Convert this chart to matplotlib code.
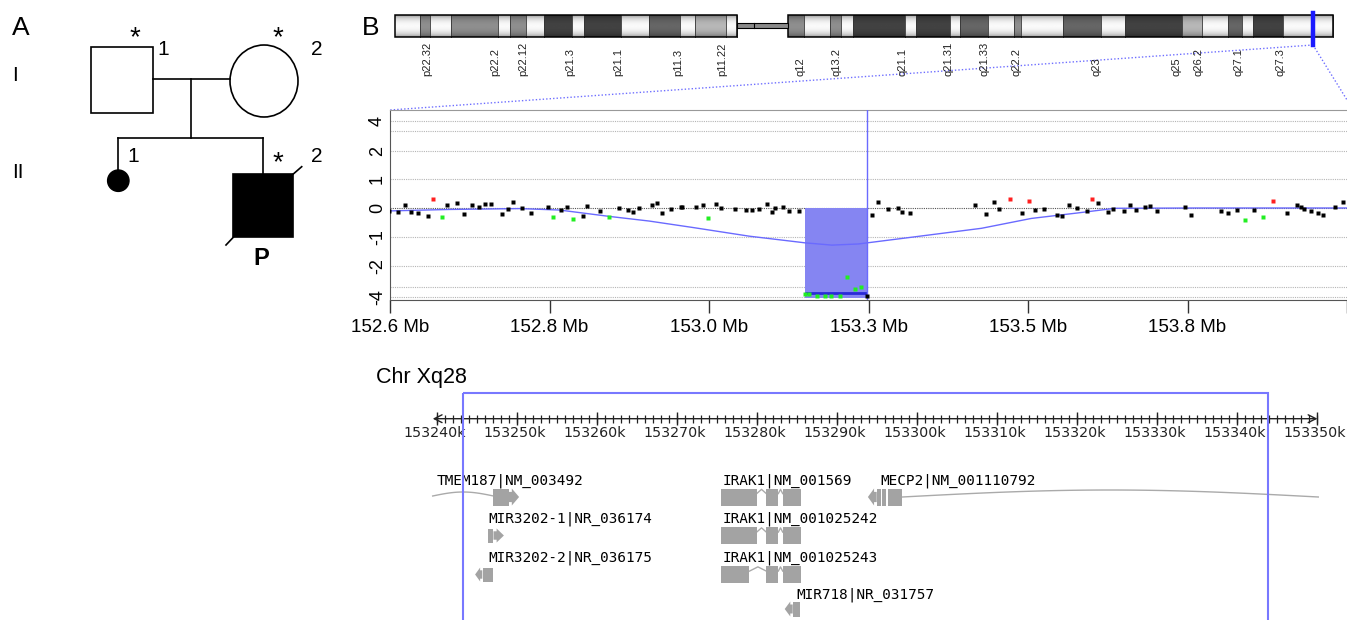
import numpy as np
import matplotlib
matplotlib.use('Agg')
import matplotlib.pyplot as plt
from matplotlib.patches import Rectangle, Ellipse, Polygon

W, H = 1347, 620
plt.rcParams['font.family'] = ['Liberation Sans', 'DejaVu Sans']

# ---- array CGH data (position in Mb, log2 ratio) ----
black_x = [152.599, 152.612, 152.623, 152.631, 152.642, 152.657, 152.686, 152.701, 152.711, 152.723,
           152.734, 152.743, 152.752, 152.768, 152.777, 152.785, 152.799, 152.812, 152.837, 152.858,
           152.867, 152.891, 152.896, 152.916, 152.944, 152.958, 152.966, 152.975, 152.994, 153.002,
           153.010, 153.023, 153.038, 153.040, 153.061, 153.071, 153.091, 153.098, 153.119, 153.136,
           153.145, 153.155, 153.167, 153.175, 153.180, 153.191, 153.201, 153.215, 153.317, 153.326,
           153.334, 153.349, 153.364, 153.371, 153.382, 153.481, 153.497, 153.509, 153.516, 153.551,
           153.570, 153.584, 153.604, 153.611, 153.622, 153.634, 153.649, 153.665, 153.680, 153.688,
           153.705, 153.713, 153.722, 153.736, 153.744, 153.754, 153.796, 153.805, 153.850, 153.861,
           153.875, 153.900, 153.949, 153.965, 153.971, 153.975, 153.986, 153.996, 154.004, 154.022,
           154.034]
black_y = [-0.10, -0.14, 0.10, -0.15, -0.16, -0.28, 0.10, 0.16, -0.21, 0.09,
           0.04, 0.14, 0.14, -0.21, -0.04, 0.22, -0.01, -0.16, 0.02, -0.07,
           0.04, -0.28, 0.07, -0.09, -0.01, -0.07, -0.13, 0.01, 0.11, 0.18,
           -0.18, -0.02, 0.04, 0.04, 0.04, 0.10, 0.13, 0.01, -0.03, -0.08,
           -0.06, -0.03, 0.15, -0.15, -0.01, 0.04, -0.09, -0.09, -3.90, -0.25,
           0.21, -0.03, 0.00, -0.15, -0.16, 0.10, -0.22, 0.21, -0.04, -0.18,
           -0.07, -0.03, -0.24, -0.28, 0.10, 0.00, -0.09, 0.18, -0.15, -0.03,
           -0.09, 0.11, -0.06, 0.03, 0.08, -0.11, 0.04, -0.24, -0.09, -0.16,
           -0.07, -0.06, -0.18, 0.10, 0.02, -0.02, -0.09, -0.18, -0.25, 0.04,
           0.22]
red_x = [152.665, 153.533, 153.561, 153.656, 153.929]
red_y = [0.32, 0.32, 0.24, 0.31, 0.25]
green_x = [152.678, 152.846, 152.875, 152.929, 153.079, 153.886, 153.913,
           153.224, 153.231, 153.242, 153.254, 153.264, 153.277, 153.287, 153.299, 153.308]
green_y = [-0.32, -0.32, -0.37, -0.31, -0.36, -0.40, -0.31,
           -3.73, -3.70, -3.90, -3.90, -3.93, -3.93, -2.54, -3.23, -3.03]
smooth_x = [152.600, 152.690, 152.795, 152.855, 152.930, 152.990, 153.055, 153.140, 153.224,
            153.265, 153.305, 153.391, 153.490, 153.565, 153.635, 153.691, 153.815, 154.040]
smooth_y = [-0.10, -0.05, -0.02, -0.07, -0.29, -0.45, -0.67, -0.97, -1.20,
            -1.28, -1.24, -0.99, -0.70, -0.36, -0.17, -0.01, 0.00, 0.00]
del_start, del_end, del_bottom, seg_mean = 153.224, 153.317, -4.1, -3.57
mb_ticks = [152.60, 152.84, 153.08, 153.32, 153.56, 153.80, 154.04]
mb_labels = ['152.6 Mb', '152.8 Mb', '153.0 Mb', '153.3 Mb', '153.5 Mb', '153.8 Mb', '']
ratio_ticks = [4, 2, 1, 0, -1, -2, -4]
grid_levels = [-4, -3, -2, -1, 1, 2, 3, 4]

# ---- X chromosome ideogram ----
p_edges = [395, 420, 430, 451, 498, 510, 526, 544, 572, 584, 621, 649, 680, 695, 726, 737]
p_shade = ['w', 'g', 'w', 'g', 'w', 'g', 'w', 'd', 'w', 'd', 'w', 'dg', 'w', 'lg', 'w']
q_edges = [788, 804, 830, 841, 853, 905, 916, 950, 960, 988, 1014, 1021, 1063, 1101, 1125,
           1182, 1202, 1228, 1242, 1253, 1283, 1333]
q_shade = ['g', 'w', 'g', 'w', 'd', 'w', 'd', 'w', 'dg', 'w', 'g', 'w', 'dg', 'w', 'd',
           'lg', 'w', 'dg', 'w', 'd', 'w']
band_names = ['p22.32', 'p22.2', 'p22.12', 'p21.3', 'p21.1', 'p11.3', 'p11.22', 'q12', 'q13.2',
              'q21.1', 'q21.31', 'q21.33', 'q22.2', 'q23', 'q25', 'q26.2', 'q27.1', 'q27.3']
band_name_x = [427, 495, 523, 570, 618, 678, 722, 800, 837,
               903, 948, 985, 1017, 1097, 1177, 1198, 1238, 1280]
marker_x = 1313

# ---- gene track (kb) ----
kb_ticks_major = list(range(153240, 153351, 10))
kb_ticks_minor = list(range(153240, 153351, 1))
del_box = (153243.25, 153343.95)

fig = plt.figure(figsize=(W / 100, H / 100), dpi=100)
canvas = fig.add_axes([0, 0, 1, 1])
canvas.axis('off')


def box(left, top, right, bottom):
    return [left / W, 1 - bottom / H, (right - left) / W, (bottom - top) / H]


# ---------------- panel A: pedigree ----------------
lw_p = 1.2
canvas.text(12, 35, 'A', fontsize=19, va='baseline')
canvas.text(12, 81, 'I', fontsize=15, va='baseline')
canvas.text(12, 178, 'II', fontsize=15, va='baseline')
canvas.add_patch(Rectangle((90.7, 47.3), 62, 65.4, fc='white', ec='black', lw=lw_p))
canvas.add_patch(Ellipse((264, 81), 68, 72, fc='white', ec='black', lw=lw_p))
canvas.plot([152.7, 230], [79.3, 79.3], 'k-', lw=lw_p)
canvas.plot([191, 191], [79.3, 138.3], 'k-', lw=lw_p)
canvas.plot([118.3, 263.3], [138.3, 138.3], 'k-', lw=lw_p)
canvas.plot([118.3, 118.3], [138.3, 172], 'k-', lw=lw_p)
canvas.add_patch(Ellipse((118.3, 180.7), 21.4, 21.4, fc='black', ec='black'))
canvas.plot([263.3, 263.3], [138.3, 174], 'k-', lw=lw_p)
canvas.add_patch(Rectangle((233.3, 174), 60, 63.3, fc='black', ec='black', lw=lw_p))
canvas.plot([293.3, 301.7], [174, 166.7], 'k-', lw=lw_p)
canvas.plot([233.3, 226], [237.3, 245], 'k-', lw=lw_p)
for sx, sy in [(135, 45), (278, 45), (278, 170)]:
    canvas.text(sx, sy, '*', fontsize=20, ha='center', va='baseline')
for tx, ty, t in [(163, 55, '1'), (316.7, 55, '2'), (133, 162, '1'), (316.7, 162, '2')]:
    canvas.text(tx, ty, t, fontsize=15, ha='center', va='baseline')
canvas.text(261.7, 265, 'P', fontsize=17, fontweight='bold', ha='center', va='baseline')

# ---------------- panel B: ideogram ----------------
canvas.text(362, 35, 'B', fontsize=19, va='baseline')
shade_val = {'w': 0.98, 'lg': 0.72, 'g': 0.56, 'dg': 0.40, 'd': 0.26}
t = np.linspace(0, 1, 30)
for edges, shades in [(p_edges, p_shade), (q_edges, q_shade)]:
    for x0, x1, s in zip(edges[:-1], edges[1:], shades):
        prof = shade_val[s] * (0.55 + 0.45 * np.sin(np.pi * t) ** 0.5)
        canvas.imshow(prof[:, None], cmap='gray', vmin=0, vmax=1, extent=(x0, x1, 37, 15),
                      aspect='auto', interpolation='bilinear', zorder=1)
        canvas.plot([x1, x1], [15, 37], color='#333333', lw=0.6, zorder=2)
    canvas.add_patch(Rectangle((edges[0], 15), edges[-1] - edges[0], 22, fc='none', ec='black',
                               lw=1.1, zorder=3))
canvas.add_patch(Rectangle((p_edges[-1], 22.5), q_edges[0] - p_edges[-1], 5, fc='#8a8a8a',
                           ec='black', lw=0.8, zorder=3))
canvas.plot([754, 754], [22.5, 27.5], color='black', lw=0.8, zorder=3)
for name, bx in zip(band_names, band_name_x):
    canvas.text(bx, 76, name, rotation=90, fontsize=8, ha='center', va='bottom', color='#222222')
canvas.plot([marker_x, marker_x], [13, 45], color='#1a1aff', lw=3.2, zorder=4)
canvas.plot([marker_x, 390], [45, 110], ls=(0, (1, 1.5)), color='#6f6fff', lw=1)
canvas.plot([marker_x, 1352], [45, 108], ls=(0, (1, 1.5)), color='#6f6fff', lw=1)
canvas.text(376, 383, 'Chr Xq28', fontsize=15.5, va='baseline')

# ---------------- panel B: log2 ratio plot ----------------
ratio_vals = [-6, -4, -3, -2, -1, 0, 1, 2, 3, 4, 6]
ratio_pix = [-109, -89, -79, -58, -29, 0, 29, 57, 77, 87, 107]


def fwd(v):
    return np.interp(v, ratio_vals, ratio_pix)


def inv(h):
    return np.interp(h, ratio_pix, ratio_vals)


ax = fig.add_axes(box(390, 110, 1347, 300))
ax.set_yscale('function', functions=(fwd, inv))
ax.set_xlim(152.6, 154.04)
ax.set_ylim(-4.3, 5.1)
for g in grid_levels:
    ax.axhline(g, color='#b5b5b5', ls=(0, (1, 1)), lw=0.8, zorder=0)
ax.axhline(0, color='#555555', ls=(0, (1, 1)), lw=0.8, zorder=0)
ax.add_patch(Rectangle((del_start, del_bottom), del_end - del_start, -del_bottom,
                       fc='#8585f2', ec='none', zorder=1))
ax.plot(smooth_x, smooth_y, color='#6a6aff', lw=1, zorder=2)
ax.hlines(seg_mean, del_start, del_end, color='#2a2ad8', lw=2, zorder=3)
ax.axvline(del_end, color='#6a6aff', lw=1, zorder=3)
ax.plot(black_x, black_y, 's', ms=2.6, color='black', mec='none', zorder=4)
ax.plot(red_x, red_y, 's', ms=2.6, color='#ff2020', mec='none', zorder=4)
ax.plot(green_x, green_y, 's', ms=2.6, color='#22ee22', mec='none', zorder=4)
ax.set_xticks(mb_ticks)
ax.set_xticklabels(mb_labels)
ax.set_yticks(ratio_ticks)
ax.set_yticklabels([str(v) for v in ratio_ticks], rotation=90, va='center')
ax.yaxis.set_minor_locator(plt.NullLocator())
ax.tick_params(axis='x', length=9, width=1, color='#333333', pad=5, labelsize=13.5)
ax.tick_params(axis='y', length=0, pad=3, labelsize=13)
ax.spines['right'].set_visible(False)
ax.spines['top'].set_color('#999999')
ax.spines['left'].set_color('#555555')
ax.spines['bottom'].set_color('#555555')

# ---------------- panel B: gene track ----------------
px_per_kb = 8.0
gx = fig.add_axes(box(380, 380, 1347, 620))
gx.set_xlim(153240 - (436.7 - 380) / px_per_kb, 153240 + (1347 - 436.7) / px_per_kb)
gx.set_ylim(620, 380)
gx.axis('off')

axis_y = 418.7
gx.annotate('', xy=(153350.1, axis_y), xytext=(153239.5, axis_y),
            arrowprops=dict(arrowstyle='<->', color='#222222', lw=1, mutation_scale=14,
                            shrinkA=0, shrinkB=0))
gx.vlines(kb_ticks_minor, axis_y - 3.7, axis_y + 4, color='#222222', lw=0.9)
gx.vlines(kb_ticks_major, axis_y - 7, axis_y + 6.3, color='#222222', lw=1)
for k in kb_ticks_major:
    gx.text(k - 0.3, 437.3, f'{k}k', family='DejaVu Sans', fontsize=10.3, ha='center',
            va='baseline', color='#222222')

gene_grey = '#a3a3a3'


def arc(a, b, y, rise):
    tt = np.linspace(0, 1, 80)
    gx.plot(a + (b - a) * tt, y - rise * np.sin(np.pi * tt), color='#aaaaaa', lw=1, zorder=2)


def exon(a, b, yc, h):
    gx.add_patch(Rectangle((a, yc - h / 2), b - a, h, fc=gene_grey, ec='none', zorder=3))


def head(a, b, yc, h, right=True):
    w = b - a
    if right:
        pts = [(a, yc - h * 0.3), (a + 0.3 * w, yc - h * 0.3), (a + 0.3 * w, yc - h * 0.5),
               (b, yc), (a + 0.3 * w, yc + h * 0.5), (a + 0.3 * w, yc + h * 0.3), (a, yc + h * 0.3)]
    else:
        pts = [(b, yc - h * 0.3), (b - 0.3 * w, yc - h * 0.3), (b - 0.3 * w, yc - h * 0.5),
               (a, yc), (b - 0.3 * w, yc + h * 0.5), (b - 0.3 * w, yc + h * 0.3), (b, yc + h * 0.3)]
    gx.add_patch(Polygon(pts, closed=True, fc=gene_grey, ec='none', zorder=3))


def chevron(a, b, yc, h):
    gx.plot([a, (a + b) / 2, b], [yc - h * 0.2, yc - h * 0.45, yc - h * 0.2],
            color='#aaaaaa', lw=1, zorder=2)


mono = dict(family='DejaVu Sans Mono', fontsize=10.4, va='baseline', color='black', zorder=5)

# row 1
gx.text(153240.0, 485, 'TMEM187|NM_003492', **mono)
arc(153239.5, 153247.1, 496, 4)
exon(153247.1, 153249.0, 497, 17)
head(153249.0, 153250.3, 497, 17)
gx.text(153275.8, 485, 'IRAK1|NM_001569', **mono)
irak1_rows = [
    (497, [(153275.6, 153280.0), (153281.2, 153282.7), (153283.25, 153285.5)]),
    (535.5, [(153275.6, 153280.0), (153281.2, 153282.7), (153283.25, 153285.5)]),
    (574.5, [(153275.6, 153279.1), (153281.2, 153282.7), (153283.25, 153285.5)]),
]
for yc, exons in irak1_rows:
    for (a, b) in exons:
        exon(a, b, yc, 17)
    for (a0, b0), (a1, b1) in zip(exons[:-1], exons[1:]):
        chevron(b0, a1, yc, 17)
gx.text(153295.5, 485, 'MECP2|NM_001110792', **mono)
head(153293.9, 153295.0, 497, 17, right=False)
exon(153295.0, 153295.5, 497, 17)
exon(153295.7, 153296.2, 497, 17)
exon(153296.4, 153298.2, 497, 17)
arc(153298.2, 153350.2, 497, 7)

# row 2
gx.text(153246.45, 523, 'MIR3202-1|NR_036174', **mono)
exon(153246.4, 153247.1, 535.5, 14)
head(153247.1, 153248.4, 535.5, 14)
gx.text(153275.8, 523, 'IRAK1|NM_001025242', **mono)

# row 3
gx.text(153246.45, 561.7, 'MIR3202-2|NR_036175', **mono)
head(153244.8, 153245.7, 574.5, 14, right=False)
exon(153245.8, 153247.1, 574.5, 14)
gx.text(153275.8, 561.7, 'IRAK1|NM_001025243', **mono)

# row 4
gx.text(153285.0, 598, 'MIR718|NR_031757', **mono)
head(153283.5, 153284.5, 609, 15, right=False)
exon(153284.6, 153285.4, 609, 15)

gx.add_patch(Rectangle((del_box[0], 393.3), del_box[1] - del_box[0], 260, fc='none',
                       ec='#7878ff', lw=1.5, zorder=6))

canvas.set_xlim(0, W)
canvas.set_ylim(H, 0)
fig.savefig('out.png', dpi=100)
